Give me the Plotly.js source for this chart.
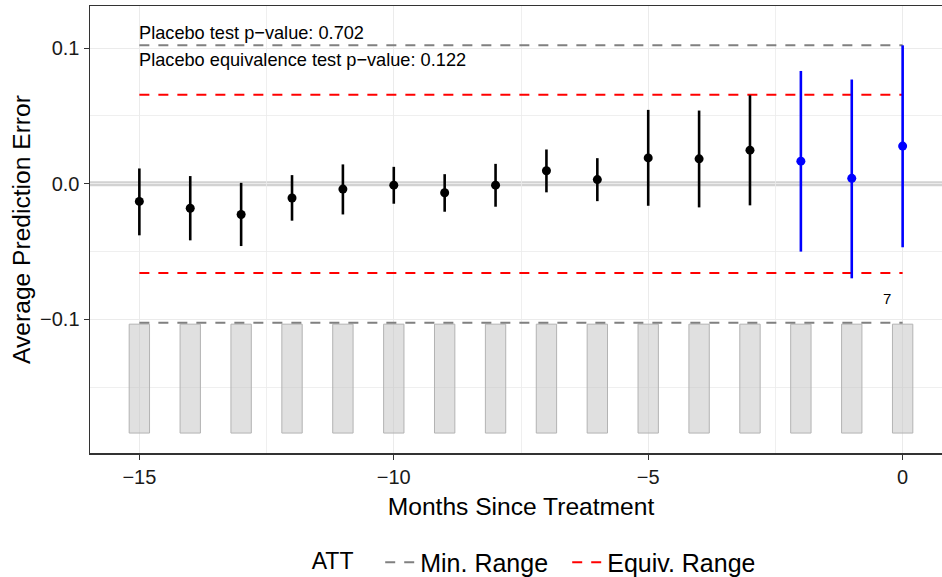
<!DOCTYPE html>
<html>
<head>
<meta charset="utf-8">
<script src="https://cdn.plot.ly/plotly-3.0.1.min.js"></script>
<style>
html, body { margin: 0; padding: 0; overflow: hidden; background: #fff; }
#chart { width: 965px; height: 577px; }
</style>
</head>
<body>
<div id="chart"></div>
<script>
// ---- data ----
const months   = [-15, -14, -13, -12, -11, -10, -9, -8, -7, -6, -5, -4, -3, -2, -1, 0];
const att      = [-0.013, -0.018, -0.0226, -0.0105, -0.0039, -0.001, -0.0066, -0.001, 0.0096, 0.0031, 0.0191, 0.0184, 0.0248, 0.0167, 0.004, 0.0278];
const ciLower  = [-0.038, -0.0417, -0.0459, -0.0272, -0.0226, -0.0147, -0.0206, -0.0169, -0.0063, -0.0128, -0.0162, -0.0174, -0.0159, -0.050, -0.0697, -0.0468];
const ciUpper  = [0.0113, 0.0057, 0.0007, 0.0064, 0.0143, 0.0125, 0.0071, 0.0147, 0.0253, 0.0189, 0.0545, 0.054, 0.0653, 0.0832, 0.0769, 0.1021];
const placeboPeriods = [-2, -1, 0];
const unitCounts = [7, 7, 7, 7, 7, 7, 7, 7, 7, 7, 7, 7, 7, 7, 7, 7];
const minRange   = [-0.1024, 0.1021];
const equivRange = [-0.0658, 0.0656];
const pPlacebo = "0.702";
const pEquiv   = "0.122";
const countLabel = "7";

// ---- derived ----
const barBase = -0.1838, barTop = -0.1035;
const maxCount = Math.max(...unitCounts);
const barHeights = unitCounts.map(c => c / maxCount * (barTop - barBase));
const xFirst = months[0], xLast = months[months.length - 1];

function subset(isPlacebo) {
  const idx = months.map((m, i) => i).filter(i => placeboPeriods.includes(months[i]) === isPlacebo);
  return {
    x: idx.map(i => months[i]),
    y: idx.map(i => att[i]),
    up: idx.map(i => ciUpper[i] - att[i]),
    dn: idx.map(i => att[i] - ciLower[i])
  };
}
const pre = subset(false), post = subset(true);

const traces = [
  {
    type: 'bar', x: months, y: barHeights, base: barBase, width: 0.4,
    marker: { color: 'rgba(195,195,195,0.52)', line: { color: '#b3b3b3', width: 1 } },
    showlegend: false, hoverinfo: 'skip'
  },
  {
    type: 'scatter', mode: 'lines', name: 'Min. Range',
    x: [xFirst, xLast, null, xFirst, xLast],
    y: [minRange[1], minRange[1], null, minRange[0], minRange[0]],
    line: { color: '#808080', width: 2, dash: '10px,9px' }
  },
  {
    type: 'scatter', mode: 'lines', name: 'Equiv. Range',
    x: [xFirst, xLast, null, xFirst, xLast],
    y: [equivRange[1], equivRange[1], null, equivRange[0], equivRange[0]],
    line: { color: '#ff0000', width: 2, dash: '10px,9px' }
  },
  {
    type: 'scatter', mode: 'markers', x: pre.x, y: pre.y, showlegend: false,
    marker: { color: '#000000', size: 9 },
    error_y: { type: 'data', symmetric: false, array: pre.up, arrayminus: pre.dn, color: '#000000', thickness: 2.6, width: 0 }
  },
  {
    type: 'scatter', mode: 'markers', x: post.x, y: post.y, showlegend: false,
    marker: { color: '#0000ff', size: 9 },
    error_y: { type: 'data', symmetric: false, array: post.up, arrayminus: post.dn, color: '#0000ff', thickness: 2.6, width: 0 }
  }
];

const gridCol = '#ebebeb';
const layout = {
  width: 965, height: 577,
  margin: { l: 90, r: 13, t: 6, b: 124, autoexpand: false },
  paper_bgcolor: '#ffffff', plot_bgcolor: '#ffffff',
  font: { family: 'Liberation Sans, Arial, sans-serif', color: '#000000' },
  showlegend: true,
  legend: {
    orientation: 'h', x: 0.513, xanchor: 'center', y: -0.245, yanchor: 'middle',
    font: { size: 25, color: '#000000' },
    title: { text: 'ATT   ', side: 'left', font: { size: 23, color: '#000000' } },
    itemwidth: 30, entrywidth: 142, bgcolor: 'rgba(0,0,0,0)'
  },
  xaxis: {
    range: [-15.97, 0.97], tick0: 0, dtick: 5, zeroline: false, automargin: false,
    showgrid: true, gridcolor: gridCol, gridwidth: 1.2,
    minor: { tick0: 0, dtick: 2.5, showgrid: true, gridcolor: gridCol, gridwidth: 0.8 },
    showline: true, linecolor: '#333333', linewidth: 1.5, mirror: true,
    ticks: 'outside', ticklen: 5, tickcolor: '#333333', tickwidth: 1.2,
    tickfont: { size: 20, color: '#1a1a1a' },
    title: { text: 'Months Since Treatment', font: { size: 24.6, color: '#000000' }, standoff: 11 }
  },
  yaxis: {
    range: [-0.1985, 0.1311], tick0: 0, dtick: 0.1, tickformat: '.1f', zeroline: false, automargin: false,
    showgrid: true, gridcolor: gridCol, gridwidth: 1.2,
    minor: { tick0: 0, dtick: 0.05, showgrid: true, gridcolor: gridCol, gridwidth: 0.8 },
    showline: true, linecolor: '#333333', linewidth: 1.5, mirror: true,
    ticks: 'outside', ticklen: 5, tickcolor: '#333333', tickwidth: 1.2,
    tickfont: { size: 20, color: '#1a1a1a' },
    title: { text: 'Average Prediction Error', font: { size: 24.6, color: '#000000' }, standoff: 2 }
  },
  shapes: [
    { type: 'line', xref: 'paper', x0: 0, x1: 1, yref: 'y', y0: 0, y1: 0,
      line: { color: '#d2d2d2', width: 5 }, layer: 'below' }
  ],
  annotations: [
    { xref: 'x', yref: 'y', x: xFirst, y: 0.111, xanchor: 'left', yanchor: 'middle', showarrow: false, xshift: -2,
      text: 'Placebo test p\u2212value: ' + pPlacebo, font: { size: 18.2, color: '#000000' } },
    { xref: 'x', yref: 'y', x: xFirst, y: 0.0915, xanchor: 'left', yanchor: 'middle', showarrow: false, xshift: -2,
      text: 'Placebo equivalence test p\u2212value: ' + pEquiv, font: { size: 18.2, color: '#000000' } },
    { xref: 'x', yref: 'y', x: -0.31, y: -0.0844, xanchor: 'center', yanchor: 'middle', showarrow: false,
      text: countLabel, font: { size: 15, color: '#000000' } }
  ]
};

Plotly.newPlot('chart', traces, layout, { displayModeBar: false, staticPlot: true });
</script>
</body>
</html>
